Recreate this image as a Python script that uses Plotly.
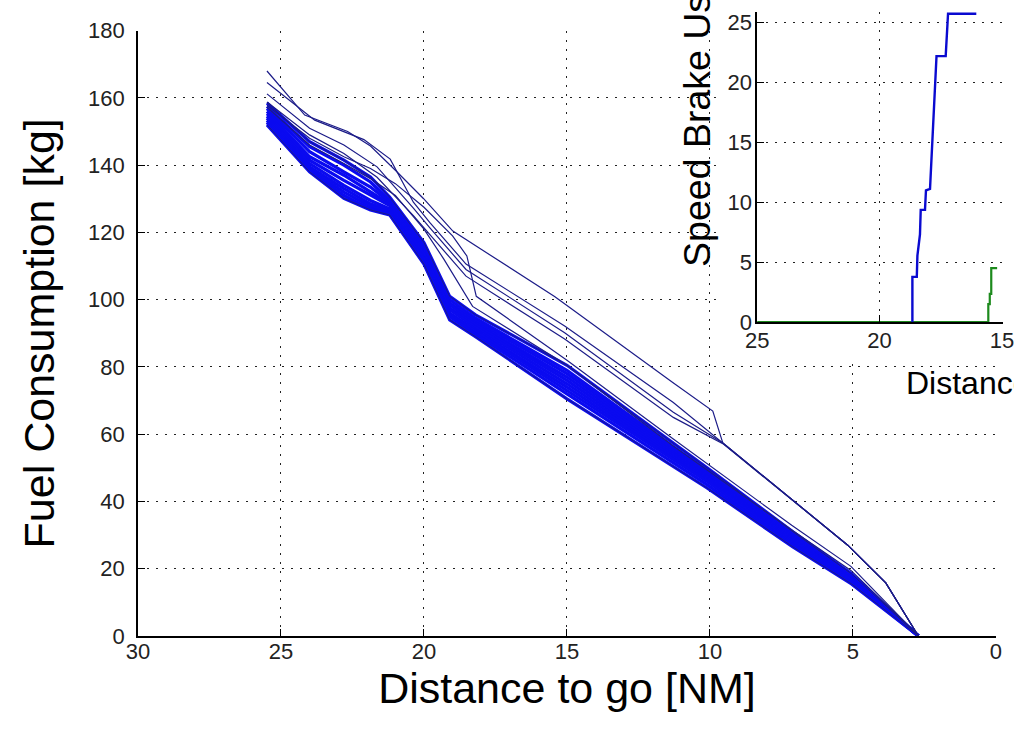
import plotly.graph_objects as go

# ---------------- data ----------------
main_x_ticks = [30, 25, 20, 15, 10, 5, 0]
main_y_ticks = [0, 20, 40, 60, 80, 100, 120, 140, 160, 180]
inset_x_ticks = [25, 20, 15]
inset_y_ticks = [0, 5, 10, 15, 20, 25]

# outlier trajectories (thin lines)
dist_T1 = [25.49, 24.17, 22.67, 21.87, 21.0, 20.02, 18.99, 15.42, 11.3, 9.9, 9.55, 5.18, 3.85, 2.71]
fuel_T1 = [168.0, 154.9, 150.0, 145.7, 138.5, 130.1, 120.4, 100.9, 75.4, 66.9, 57.4, 27.0, 15.8, 0.0]

dist_G2a = [25.49, 23.82, 22.1, 21.18, 20.37, 19.8, 18.53, 15.08, 11.28, 9.55, 5.18, 3.85, 2.71]
fuel_G2a = [164.6, 153.4, 147.6, 141.8, 129.0, 123.0, 110.6, 92.2, 69.4, 57.4, 27.0, 15.8, 0.0]

dist_G2b = [25.49, 24.0, 22.8, 21.64, 20.37, 19.8, 18.53, 15.08, 11.28, 9.55, 5.18, 3.85, 2.71]
fuel_G2b = [161.2, 151.0, 146.0, 139.5, 127.2, 121.4, 109.0, 90.2, 66.5, 57.4, 27.0, 15.8, 0.0]

dist_G2c = [25.49, 24.0, 22.8, 21.64, 20.37, 19.8, 18.53, 15.08, 11.28, 9.55, 5.18, 3.85, 2.71]
fuel_G2c = [158.8, 149.0, 143.5, 136.4, 125.0, 119.5, 107.0, 88.3, 65.0, 57.2, 27.0, 15.8, 0.0]

dist_M1 = [25.49, 24.0, 22.8, 21.87, 21.0, 20.0, 19.0, 18.5, 18.17, 15.0, 11.28, 7.14, 5.07, 2.71]
fuel_M1 = [157.8, 148.0, 142.5, 139.0, 134.5, 127.5, 119.0, 113.0, 101.0, 82.0, 58.6, 32.9, 20.7, 0.0]

dist_M2 = [25.49, 24.0, 22.8, 21.87, 21.0, 20.0, 19.3, 18.3, 15.0, 11.28, 7.14, 5.07, 2.71]
fuel_M2 = [157.2, 146.0, 140.5, 136.0, 131.0, 121.0, 112.0, 98.0, 80.5, 56.5, 31.5, 19.5, 0.0]

# dense bundle of trajectories
dist_dense = [25.49, 24.0, 22.8, 21.87, 21.2, 20.0, 19.1, 18.2, 15.0, 10.1, 7.1, 5.05, 2.71]
fuel_D1 = [158.5, 147.0, 141.5, 136.5, 130.5, 117.0, 101.0, 95.5, 80.5, 50.0, 31.0, 18.5, 0.0]
fuel_D2 = [157.5, 145.5, 140.0, 135.0, 129.5, 116.0, 100.0, 94.5, 79.0, 49.0, 30.5, 18.0, 0.0]
fuel_D3 = [156.8, 144.0, 138.0, 133.5, 129.0, 115.5, 99.0, 93.8, 78.0, 48.5, 30.0, 17.8, 0.0]
fuel_D4 = [156.0, 142.5, 137.0, 132.0, 128.5, 115.0, 98.5, 93.0, 77.0, 48.0, 29.5, 17.5, 0.0]
fuel_D5 = [155.3, 141.5, 135.5, 131.0, 128.0, 114.0, 97.5, 92.5, 76.0, 47.5, 29.0, 17.2, 0.0]
fuel_D6 = [154.6, 140.5, 134.0, 129.5, 127.0, 113.5, 97.0, 91.8, 75.0, 47.0, 28.5, 17.0, 0.0]
fuel_D7 = [154.0, 139.5, 133.0, 128.5, 126.5, 112.5, 96.0, 91.0, 74.0, 46.5, 28.0, 16.8, 0.0]
fuel_D8 = [153.3, 139.0, 132.0, 127.8, 126.0, 112.0, 95.5, 90.5, 73.0, 46.0, 27.5, 16.5, 0.0]
fuel_D9 = [152.7, 138.5, 131.0, 127.0, 125.5, 111.0, 95.0, 89.8, 72.0, 45.0, 27.0, 16.0, 0.0]
fuel_D10 = [152.0, 138.0, 130.1, 126.7, 125.2, 110.6, 94.0, 89.0, 70.5, 44.0, 26.5, 15.5, 0.0]

# inset: speed brake usage
sb_blue_dist = [18.66, 18.66, 18.48, 18.455, 18.35, 18.32, 18.145, 18.105, 17.94, 17.876, 17.81,
                17.742, 17.675, 17.30, 17.245, 17.204, 16.05]
sb_blue_use = [0.0, 3.76, 3.76, 5.53, 7.30, 9.35, 9.35, 10.98, 11.1, 13.85, 16.16,
               19.02, 22.16, 22.16, 23.93, 25.7, 25.7]
sb_green_dist = [25.0, 15.56, 15.56, 15.50, 15.50, 15.44, 15.44, 15.2]
sb_green_use = [0.0, 0.0, 1.5, 1.5, 2.35, 2.35, 4.5, 4.5]

# ---------------- layout geometry ----------------
W, H = 1014, 732
ML, MB = 138, 96
PW, PH = W - ML, H - MB


def fx(p):
    return (p - ML) / PW


def fy(p):
    return (PH - p) / PH


NAVY = "#1c1c88"
BLUE = "#0a0af0"
GRID = dict(showgrid=True, gridcolor="#222222", gridwidth=1.4, griddash="2px,7px")
TICKFONT = dict(family="Liberation Sans, Arial", size=22, color="#222222")

fig = go.Figure()

for f in [fuel_D1, fuel_D2, fuel_D3, fuel_D4, fuel_D5, fuel_D6, fuel_D7, fuel_D8, fuel_D9, fuel_D10]:
    fig.add_trace(go.Scatter(x=dist_dense, y=f, mode="lines",
                             line=dict(color=BLUE, width=3.2), showlegend=False, hoverinfo="skip"))
for f in [fuel_D1, fuel_D10]:
    fig.add_trace(go.Scatter(x=dist_dense, y=f, mode="lines",
                             line=dict(color=NAVY, width=1), showlegend=False, hoverinfo="skip"))

for d, f in [(dist_T1, fuel_T1), (dist_G2a, fuel_G2a), (dist_G2b, fuel_G2b),
             (dist_G2c, fuel_G2c), (dist_M1, fuel_M1), (dist_M2, fuel_M2)]:
    fig.add_trace(go.Scatter(x=d, y=f, mode="lines",
                             line=dict(color=NAVY, width=1.2), showlegend=False, hoverinfo="skip"))

# white patch behind inset (empty subplot)
fig.add_trace(go.Scatter(x=[], y=[], xaxis="x2", yaxis="y2", showlegend=False, hoverinfo="skip"))

# inset traces
fig.add_trace(go.Scatter(x=sb_green_dist, y=sb_green_use, mode="lines", xaxis="x3", yaxis="y3",
                         line=dict(color="#1d8a1d", width=2.2), showlegend=False, hoverinfo="skip"))
fig.add_trace(go.Scatter(x=sb_blue_dist, y=sb_blue_use, mode="lines", xaxis="x3", yaxis="y3",
                         line=dict(color="#0a0ad0", width=2.4), showlegend=False, hoverinfo="skip"))

axis_common = dict(showline=True, linecolor="black", linewidth=1.6, mirror=False,
                   ticks="inside", ticklen=7, tickcolor="black", tickwidth=1.4,
                   zeroline=False, tickfont=TICKFONT, ticklabeloverflow="allow")

fig.update_layout(
    width=W, height=H,
    margin=dict(l=ML, r=0, t=0, b=MB),
    paper_bgcolor="white", plot_bgcolor="white",
    font=dict(family="Liberation Sans, Arial", color="black"),
    xaxis=dict(domain=[0, fx(1006.8)], range=[30, 0], tickvals=main_x_ticks,
               title=dict(text="Distance to go [NM]", font=dict(size=43, color="black"), standoff=0),
               ticklabelstandoff=-5, **GRID, **axis_common),
    yaxis=dict(domain=[0, fy(19)], range=[0, 180], tickvals=main_y_ticks,
               title=dict(text="Fuel Consumption [kg]", font=dict(size=43, color="black"), standoff=20),
               ticklabelstandoff=7, **GRID, **axis_common),
    xaxis2=dict(domain=[fx(730), 1], anchor="y2", visible=False, range=[0, 1]),
    yaxis2=dict(domain=[fy(352), 1], anchor="x2", visible=False, range=[0, 1]),
    xaxis3=dict(domain=[fx(765), 1], anchor="y3", range=[25, 14.96], tickvals=inset_x_ticks,
                ticklabelstandoff=-2, **GRID, **axis_common),
    yaxis3=dict(domain=[fy(316), 1], anchor="x3", range=[0, 25.84], tickvals=inset_y_ticks,
                ticklabelstandoff=-1, **GRID, **axis_common),
    annotations=[
        dict(text="Speed Brake Usage [%]", textangle=-90, xref="paper", yref="paper",
             x=fx(704), y=fy(262), xanchor="center", yanchor="bottom", showarrow=False,
             font=dict(size=37.5, color="black", family="Liberation Sans, Arial")),
        dict(text="Distance to go [NM]", xref="paper", yref="paper",
             x=fx(914), y=fy(378), xanchor="left", yanchor="middle", showarrow=False,
             font=dict(size=32, color="black", family="Liberation Sans, Arial")),
    ],
)

POST = ("document.documentElement.style.overflow='hidden';"
        "document.body.style.margin='0';document.body.style.overflow='hidden';"
        "var g=document.getElementById('{plot_id}');"
        "g.style.position='fixed';g.style.left='0px';g.style.top='0px';")

fig.write_html("out.html", config={"displayModeBar": False}, post_script=POST)
